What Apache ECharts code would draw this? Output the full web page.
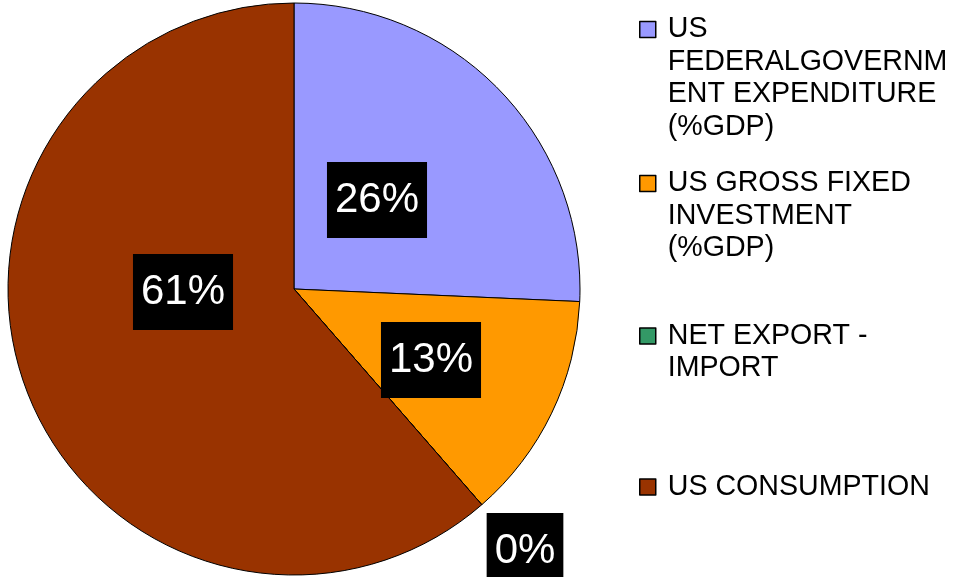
<!DOCTYPE html>
<html>
<head>
<meta charset="utf-8">
<script src="https://cdn.jsdelivr.net/npm/echarts@6/dist/echarts.min.js"></script>
<style>html,body{margin:0;padding:0;background:#fff}#c{width:959px;height:577px}</style>
</head>
<body>
<div id="c"></div>
<script>
var categories = ['US\nFEDERALGOVERNM\nENT EXPENDITURE\n(%GDP)', 'US GROSS FIXED\nINVESTMENT\n(%GDP)', 'NET EXPORT -\nIMPORT', 'US CONSUMPTION'];
var values = [25.7, 12.9, 0, 61.4];
var colors = ['#9999FF', '#FF9900', '#339966', '#993300'];

var labelPos = [[377, 200], [431, 360], [525, 551], [183, 292]];
var legendLineCenters = [29.5, 183.5, 336, 487];
var LH = 32.5;

var chart = echarts.init(document.getElementById('c'), null, {renderer: 'canvas'});

var legends = categories.map(function (name, i) {
  var n = name.split('\n').length;
  var top = legendLineCenters[i] - (2 * n - 1) * LH / 2;
  var pad = '';
  for (var k = 1; k < n; k++) pad += '\n';
  return {
    show: true,
    orient: 'vertical',
    left: 639,
    top: top,
    padding: 0,
    selectedMode: false,
    icon: 'rect',
    itemWidth: 16,
    itemHeight: 16,
    itemStyle: {color: colors[i], borderColor: '#000', borderWidth: 1.5},
    formatter: function (nm) { return pad + nm; },
    textStyle: {
      fontFamily: 'Liberation Sans, Arial, sans-serif',
      fontSize: 28.6,
      color: '#000',
      lineHeight: LH,
      padding: [0, 0, 0, 7]
    },
    data: [name]
  };
});

chart.setOption({
  animation: false,
  backgroundColor: '#fff',
  color: colors,
  legend: legends,
  series: [{
    type: 'pie',
    center: [294, 289],
    radius: 286,
    startAngle: 90,
    clockwise: true,
    avoidLabelOverlap: false,
    stillShowZeroSum: true,
    itemStyle: {borderColor: '#000', borderWidth: 1},
    emphasis: {disabled: true},
    label: {
      show: true,
      position: 'inside',
      formatter: function (p) { return Math.round(p.percent) + '%'; },
      color: '#fff',
      fontFamily: 'Liberation Sans, Arial, sans-serif',
      fontSize: 42,
      backgroundColor: '#000',
      padding: [17, 8, 17, 8]
    },
    labelLine: {show: false},
    labelLayout: function (p) {
      var pos = labelPos[p.dataIndex];
      return {x: pos[0], y: pos[1], align: 'center', verticalAlign: 'middle'};
    },
    data: categories.map(function (c, i) {
      return {name: c, value: values[i], itemStyle: {color: colors[i]}};
    })
  }]
});
</script>
</body>
</html>
